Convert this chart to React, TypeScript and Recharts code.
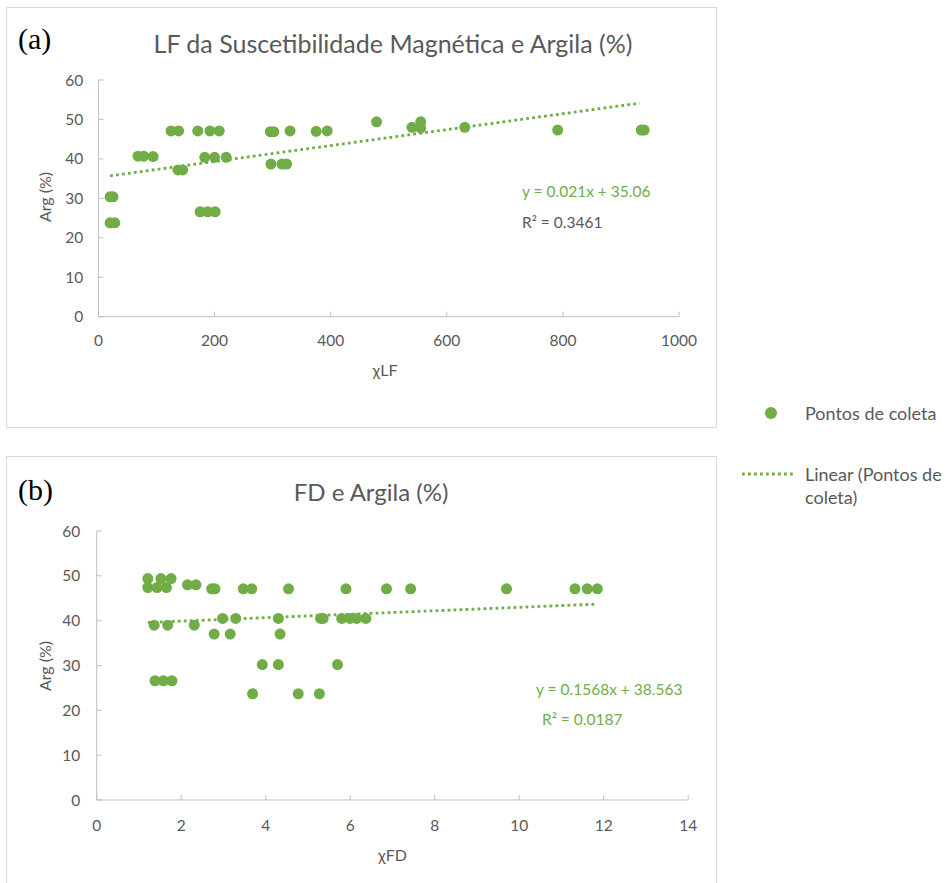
import React from "react";
import { ScatterChart, Scatter, XAxis, YAxis } from "recharts";

const GREEN = "#70AD47";
const GREY = "#595959";
const AXIS = "#BFBFBF";
const FONT = "Lato, 'Open Sans', sans-serif";

// (a) LF da Suscetibilidade Magnética x Argila
const lfValues = [20, 25, 20, 28, 68, 78, 94, 125, 138, 137, 145, 171, 192, 208, 183, 200, 220, 175, 188, 201, 296, 302, 330, 375, 394, 297, 316, 324, 479, 540, 555, 555, 631, 791, 935, 940];
const argA = [30.4, 30.4, 23.8, 23.8, 40.7, 40.7, 40.6, 47.1, 47.1, 37.2, 37.2, 47.1, 47.1, 47.1, 40.4, 40.4, 40.4, 26.6, 26.6, 26.6, 46.9, 46.9, 47.1, 47.0, 47.1, 38.7, 38.7, 38.7, 49.4, 48.0, 49.4, 47.8, 48.0, 47.3, 47.3, 47.3];
// trend line as drawn in the picture
const lineA = { slope: 0.0202, intercept: 35.3 };

// (b) FD x Argila
const fdValues = [1.21, 1.52, 1.76, 1.21, 1.43, 1.65, 2.15, 2.35, 2.72, 2.8, 3.47, 3.67, 4.54, 5.9, 6.86, 7.43, 9.7, 11.32, 11.61, 11.85, 2.98, 3.29, 4.3, 5.3, 5.36, 5.8, 6.0, 6.15, 6.37, 1.36, 1.68, 2.31, 2.78, 3.16, 4.34, 3.92, 4.3, 5.7, 1.38, 1.58, 1.78, 3.69, 4.77, 5.27];
const argB = [49.4, 49.4, 49.4, 47.4, 47.4, 47.4, 48.0, 48.0, 47.1, 47.1, 47.1, 47.1, 47.1, 47.1, 47.1, 47.1, 47.1, 47.1, 47.1, 47.1, 40.5, 40.5, 40.5, 40.5, 40.5, 40.5, 40.5, 40.5, 40.5, 39, 39, 39, 37, 37, 37, 30.2, 30.2, 30.2, 26.6, 26.6, 26.6, 23.7, 23.7, 23.7];
const lineB = { slope: 0.385, intercept: 39.13 };

const xTicksA = [0, 200, 400, 600, 800, 1000];
const xTicksB = [0, 2, 4, 6, 8, 10, 12, 14];
const yTicks = [0, 10, 20, 30, 40, 50, 60];

const toPoints = (xs: number[], ys: number[]) => xs.map((x, i) => ({ x, y: ys[i] }));
const trendOf = (xs: number[], fit: { slope: number; intercept: number }, hiX?: number) => {
  const lo = Math.min(...xs);
  const hi = hiX ?? Math.max(...xs);
  return [lo, hi].map((x) => ({ x, y: fit.slope * x + fit.intercept }));
};

const dataA = toPoints(lfValues, argA);
const dataB = toPoints(fdValues, argB);
const trendA = trendOf(lfValues, lineA, 932);
const trendB = trendOf(fdValues, lineB);

function XTick({ x, y, payload, gap }: any) {
  return (
    <g>
      <line x1={x} x2={x} y1={y - gap} y2={y - gap - 5} stroke={AXIS} />
      <text x={x} y={y} dy="0.71em" textAnchor="middle" fill={GREY} fontSize={15.5} fontFamily={FONT}>
        {payload.value}
      </text>
    </g>
  );
}

function YTick({ x, y, payload, gap }: any) {
  return (
    <g>
      <line x1={x + gap} x2={x + gap + 5} y1={y} y2={y} stroke={AXIS} />
      <text x={x} y={y} dy="0.355em" textAnchor="end" fill={GREY} fontSize={15.5} fontFamily={FONT}>
        {payload.value}
      </text>
    </g>
  );
}

const dot = (p: any) => <circle cx={p.cx} cy={p.cy} r={5.5} fill={GREEN} />;
const none = () => <g />;

function Txt({ x, y, children, size = 15.5, color = GREY, center = false, rotate = false, family = FONT }: any) {
  return (
    <div
      style={{
        position: "absolute",
        left: x,
        top: y,
        fontFamily: family,
        fontSize: size,
        lineHeight: 1,
        color,
        whiteSpace: "nowrap",
        transform: `translate(${center ? "-50%" : "0"}, -50%)${rotate ? " rotate(-90deg)" : ""}`,
        transformOrigin: center ? "center" : "left center",
      }}
    >
      {children}
    </div>
  );
}

function Panel({ data, trend, domainX, ticksX, yAxisW, right, top, bottom, xGap, yGap, top0 }: any) {
  return (
    <div style={{ position: "absolute", left: 0, top: top0 }}>
      <ScatterChart width={720} height={440} margin={{ top, right, bottom, left: 0 }}>
        <XAxis
          type="number"
          dataKey="x"
          domain={domainX}
          ticks={ticksX}
          interval={0}
          allowDataOverflow
          height={40}
          tickSize={0}
          tickMargin={xGap}
          tickLine={false}
          axisLine={{ stroke: AXIS }}
          tick={(p: any) => <XTick {...p} gap={xGap} />}
        />
        <YAxis
          type="number"
          dataKey="y"
          domain={[0, 60]}
          ticks={yTicks}
          interval={0}
          width={yAxisW}
          tickSize={0}
          tickMargin={yGap}
          tickLine={false}
          axisLine={{ stroke: AXIS }}
          tick={(p: any) => <YTick {...p} gap={yGap} />}
        />
        <Scatter data={data} shape={dot} isAnimationActive={false} />
        <Scatter
          data={trend}
          shape={none}
          line={{ stroke: GREEN, strokeWidth: 2.8, strokeDasharray: "2.8 3.2" }}
          isAnimationActive={false}
        />
      </ScatterChart>
    </div>
  );
}

export default function App() {
  return (
    <div style={{ position: "absolute", left: 0, top: 0, width: 948, height: 883, background: "#fff", overflow: "hidden" }}>
      <div style={{ position: "absolute", left: 6, top: 7, width: 711, height: 421, border: "1px solid #D9D9D9", boxSizing: "border-box" }} />
      <div style={{ position: "absolute", left: 6, top: 456, width: 711, height: 440, border: "1px solid #D9D9D9", boxSizing: "border-box" }} />

      <Panel data={dataA} trend={trendA} domainX={[0, 1000]} ticksX={xTicksA} yAxisW={98.5} right={41} top={80} bottom={83.3} xGap={18} yGap={15.2} top0={0} />
      <Panel data={dataB} trend={trendB} domainX={[0, 14]} ticksX={xTicksB} yAxisW={96.7} right={31.8} top={91} bottom={40} xGap={19.5} yGap={16.5} top0={440} />

      <Txt x={18} y={39} size={30} color="#000" family="'Liberation Serif', 'Times New Roman', serif">(a)</Txt>
      <Txt x={393} y={43} size={25} center>LF da Suscetibilidade Magnética e Argila (%)</Txt>
      <Txt x={45} y={197} size={16} center rotate>Arg (%)</Txt>
      <Txt x={385} y={370} size={16} center>χLF</Txt>
      <Txt x={522} y={192} color={GREEN}>y = 0.021x + 35.06</Txt>
      <Txt x={522} y={223}>R² = 0.3461</Txt>

      <Txt x={18} y={490} size={30} color="#000" family="'Liberation Serif', 'Times New Roman', serif">(b)</Txt>
      <Txt x={371} y={492} size={24} center>FD e Argila (%)</Txt>
      <Txt x={45} y={666} size={16} center rotate>Arg (%)</Txt>
      <Txt x={392.5} y={855} size={16} center>χFD</Txt>
      <Txt x={536} y={690} color={GREEN}>y = 0.1568x + 38.563</Txt>
      <Txt x={542} y={720} color={GREEN}>R² = 0.0187</Txt>

      <div style={{ position: "absolute", left: 764.7, top: 407.3, width: 12, height: 12, borderRadius: 6, background: GREEN }} />
      <Txt x={805} y={413} size={18}>Pontos de coleta</Txt>
      <svg style={{ position: "absolute", left: 740, top: 470 }} width={56} height={8}>
        <line x1={2} x2={54} y1={4} y2={4} stroke={GREEN} strokeWidth={2.8} strokeDasharray="2.8 3.2" />
      </svg>
      <Txt x={805} y={474} size={18}>Linear (Pontos de</Txt>
      <Txt x={805} y={497} size={18}>coleta)</Txt>
    </div>
  );
}
